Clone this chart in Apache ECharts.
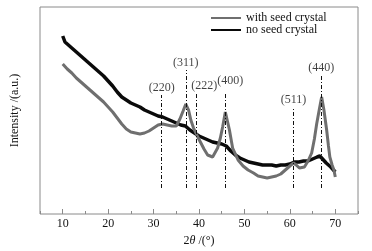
<!DOCTYPE html>
<html>
<head>
<meta charset="utf-8">
<script src="https://cdn.jsdelivr.net/npm/echarts@6/dist/echarts.min.js"></script>
<style>
  html, body { margin: 0; padding: 0; background: #fff; }
  #chart { width: 372px; height: 251px; }
</style>
</head>
<body>
<div id="chart"></div>
<script>
// 2theta (deg), intensity (a.u., arbitrary scale)
const seriesNames = ['with seed crystal', 'no seed crystal'];

const withSeed = [
  [10, 150], [11, 145], [12, 141], [13, 136], [14, 132], [15, 128], [16, 124],
  [17, 120], [18, 116], [19, 112], [20, 107], [21, 102], [22, 96], [23, 90],
  [24, 85], [25, 82], [26, 81], [27, 80], [28, 81], [29, 83], [30, 86], [31, 89],
  [32, 90], [33, 89], [34, 88], [35, 88], [35.8, 95], [36.5, 103], [37.1, 110],
  [37.7, 104], [38.2, 94], [38.8, 86], [39.5, 79], [40.3, 72], [41.1, 65],
  [41.9, 59], [43, 57], [44.1, 66], [44.7, 76], [45.2, 87], [45.8, 102],
  [46.3, 92], [46.7, 84], [47.4, 66], [48.6, 54], [49.7, 48], [50.8, 44],
  [52, 41], [53, 38], [54, 37], [55, 36], [56, 37], [57, 38], [58, 40], [59, 44],
  [60, 48], [60.8, 51], [61.4, 49], [62.1, 46], [63.2, 47], [64, 53], [64.8, 61],
  [65.4, 75], [65.9, 90], [66.5, 105], [67, 117], [67.5, 104], [68.1, 84],
  [68.5, 68], [68.8, 57], [69.3, 49], [69.7, 44], [70, 37]
];

const noSeed = [
  [10, 178], [10.5, 172], [11, 170], [12, 166], [13, 162], [14, 158], [15, 154],
  [16, 150], [17, 146], [18, 142], [19, 138], [20, 133], [21, 128], [22, 122],
  [23, 117], [24, 114], [25, 111], [26, 109], [27, 107], [28, 104], [29, 102],
  [30, 100], [31, 98], [32, 97], [33, 95], [34, 93], [35, 91], [36, 89], [37, 88],
  [38, 84], [39, 81], [40, 78], [41, 76], [42, 74], [43, 72], [44, 71], [45, 70],
  [46, 68], [47, 63], [48, 59], [49, 56], [50, 54], [51, 52], [52, 51], [53, 50],
  [54, 49], [55, 49], [56, 49], [57, 48], [58, 49], [59, 49], [60, 50], [61, 52],
  [62, 52], [63, 53], [64, 53], [65, 55], [66, 57], [66.6, 58], [67, 57],
  [68, 51], [69, 47], [70, 42]
];

const peakNames = ['(220)', '(311)', '(222)', '(400)', '(511)', '(440)'];
const peakPos = [31.8, 37.1, 39.4, 45.8, 60.8, 66.9];
const peakTop = [119, 144, 121, 121, 107, 139];
const peakBase = 26;

const FONT = '"Liberation Serif", "Times New Roman", Times, serif';
const GRAY = '#6f6f6f';
const AXIS_GRAY = '#8a8a8a';

// label nudges for the crowded (222)/(400) pair
const labelShift = [[0, 0], [0, 0], [8, 0], [5, -5], [0, 0], [0, 0]];

const chart = echarts.init(document.getElementById('chart'), null, { renderer: 'canvas' });

const option = {
  animation: false,
  backgroundColor: '#fff',
  textStyle: { fontFamily: FONT },
  grid: {
    left: 40, right: 14, top: 7, bottom: 37,
    show: true, borderColor: AXIS_GRAY, borderWidth: 1,
    outerBoundsMode: 'none'
  },
  legend: {
    data: seriesNames,
    orient: 'vertical',
    left: 211, top: 12,
    itemWidth: 30, itemHeight: 2, itemGap: 0,
    icon: 'rect',
    textStyle: { fontFamily: FONT, fontSize: 12, color: '#111', lineHeight: 12 },
    padding: 0
  },
  xAxis: [
    {
      type: 'value', min: 5, max: 75, splitNumber: 7,
      name: '{n|2}{i|θ}{n| /(°)}', nameLocation: 'middle', nameGap: 20,
      nameTextStyle: {
        rich: {
          n: { fontFamily: FONT, fontSize: 12, color: '#111' },
          i: { fontFamily: FONT, fontSize: 12, color: '#111', fontStyle: 'italic' }
        }
      },
      axisLine: { show: false },
      axisTick: { show: true, inside: true, length: 5, lineStyle: { color: AXIS_GRAY } },
      axisLabel: {
        margin: 4, fontFamily: FONT, fontSize: 12, color: '#111',
        showMinLabel: false, showMaxLabel: false,
        formatter: v => (v % 10 === 0 ? String(v) : '')
      },
      splitLine: { show: false }
    },
    {
      type: 'value', min: 5, max: 75, interval: 5, position: 'bottom',
      axisLine: { show: false },
      axisTick: { show: true, inside: true, length: 3, lineStyle: { color: AXIS_GRAY } },
      axisLabel: { show: false },
      splitLine: { show: false }
    }
  ],
  yAxis: {
    type: 'value', min: 0, max: 207,
    name: 'Intensity /(a.u.)', nameLocation: 'middle', nameGap: 19,
    nameTextStyle: { fontFamily: FONT, fontSize: 12, color: '#111' },
    axisLine: { show: false }, axisTick: { show: false },
    axisLabel: { show: false }, splitLine: { show: false }
  },
  series: [
    {
      name: seriesNames[1], type: 'line', data: noSeed,
      showSymbol: false, symbol: 'none', z: 2,
      lineStyle: { color: '#0a0a0a', width: 3.5 },
      itemStyle: { color: '#0a0a0a' }
    },
    {
      name: seriesNames[0], type: 'line', data: withSeed,
      showSymbol: false, symbol: 'none', z: 3,
      lineStyle: { color: GRAY, width: 3 },
      itemStyle: { color: GRAY }
    },
    {
      name: 'peaks', type: 'scatter', z: 4, silent: true,
      symbolSize: 0,
      data: peakPos.map((x, i) => ({
        value: [x, peakTop[i]],
        label: { offset: labelShift[i] }
      })),
      label: {
        show: true, position: 'top', distance: 1,
        fontFamily: FONT, fontSize: 12, color: '#111',
        formatter: p => peakNames[p.dataIndex]
      },
      markLine: {
        silent: true, symbol: 'none', animation: false,
        label: { show: false },
        lineStyle: { color: '#111', width: 1, type: [4, 2, 1, 2] },
        data: peakPos.map((x, i) => [{ coord: [x, peakBase] }, { coord: [x, peakTop[i]] }])
      }
    }
  ]
};

chart.setOption(option);
</script>
</body>
</html>
